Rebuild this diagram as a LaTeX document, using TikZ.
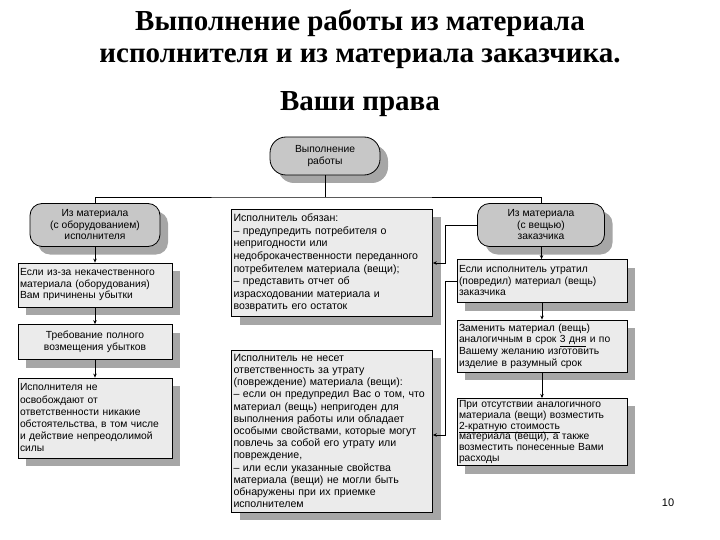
\documentclass[tikz,border=0pt]{standalone}
\usepackage{fontspec}
\setmainfont{Liberation Sans}
\newfontfamily\titlefont{Liberation Serif}
\usetikzlibrary{shadows,arrows.meta}
\begin{document}
\begin{tikzpicture}[x=1pt,y=-1pt,
  sh/.style={drop shadow={shadow xshift=8pt,shadow yshift=-8pt,fill=black!35,opacity=1}},
  box/.style={draw=black,line width=0.8pt,fill=black!8,sh,inner sep=2pt,align=left,font=\fontsize{10.3}{11.5}\selectfont},
  rbox/.style={draw=black,line width=0.8pt,fill=black!22,sh,rounded corners=12pt,align=center,inner sep=1pt,font=\fontsize{10.3}{11.5}\selectfont},
  ttl/.style={font=\titlefont\bfseries\fontsize{29}{33}\selectfont},
  ln/.style={line width=0.8pt},
  ar/.style={line width=0.8pt,-{Stealth[length=4pt,width=3.5pt]}}]
\useasboundingbox (0,0) rectangle (720,540);
\node[ttl] (t1) at (360,23) {Выполнение работы из материала};
\node[ttl] (t2) at (360,59) {исполнителя и из материала заказчика.};
\node[ttl] (t3) at (360,104) {Ваши права};

\node[rbox,minimum width=110pt,minimum height=38pt,rounded corners=16pt] (top) at (325,156) {Выполнение\\работы};
\node[rbox,minimum width=130pt,minimum height=43pt] (lr) at (95,225) {Из материала\\(с оборудованием)\\исполнителя};
\node[rbox,minimum width=127pt,minimum height=43pt] (rr) at (541,225) {Из материала\\(с вещью)\\заказчика};

\node[box,minimum width=154pt,minimum height=44pt,text width=150pt] (l1) at (95,285) {Если из-за некачественного\\материала (оборудования)\\Вам причинены убытки};
\node[box,minimum width=154pt,minimum height=35pt,text width=150pt,align=center] (l2) at (95,342) {Требование полного\\возмещения убытков};
\node[box,minimum width=154pt,minimum height=80pt,text width=150pt,font=\fontsize{10.3}{12.2}\selectfont] (l3) at (95,418) {Исполнителя не\\освобождают от\\ответственности никакие\\обстоятельства, в том числе\\и действие непреодолимой\\силы};

\node[box,minimum width=201pt,minimum height=107pt,text width=197pt,font=\fontsize{10.6}{12.6}\selectfont] (m1) at (332,263) {Исполнитель обязан:\\-- предупредить потребителя о\\непригодности или\\недоброкачественности переданного\\потребителем материала (вещи);\\-- представить отчет об\\израсходовании материала и\\возвратить его остаток};
\node[box,minimum width=201pt,minimum height=162pt,text width=197pt,font=\fontsize{10.6}{12.2}\selectfont] (m2) at (332,431) {Исполнитель не несет\\ответственность за утрату\\(повреждение) материала (вещи):\\-- если он предупредил Вас о том, что\\материал (вещь) непригоден для\\выполнения работы или обладает\\особыми свойствами, которые могут\\повлечь за собой его утрату или\\повреждение,\\-- или если указанные свойства\\материала (вещи) не могли быть\\обнаружены при их приемке\\исполнителем};

\node[box,minimum width=170pt,minimum height=43pt,text width=166pt] (r1) at (542,281) {Если исполнитель утратил\\(повредил) материал (вещь)\\заказчика};
\node[box,minimum width=170pt,minimum height=52pt,text width=166pt,font=\fontsize{10.3}{11.6}\selectfont] (r2) at (542,346) {Заменить материал (вещь)\\аналогичным в срок \smash{\underline{3 дня}} и по\\Вашему желанию изготовить\\изделие в разумный срок};
\node[box,minimum width=170pt,minimum height=65pt,text width=166pt,font=\fontsize{10.3}{10.8}\selectfont] (r3) at (542,432) {При отсутствии аналогичного\\материала (вещи) возместить\\\smash{\underline{2-кратную стоимость}}\\материала (вещи), а также\\возместить понесенные Вами\\расходы};

\node[font=\fontsize{11}{13}\selectfont] (pn) at (668,503) {10};

\coordinate (j) at (325,197);
\draw[ln] (top.south) -- (j);
\draw[ln] (lr.north) |- (j) -| (rr.north);
\draw[ar] (lr) -- (l1);
\draw[ar] (l1) -- (l2);
\draw[ar] (l2) -- (l3);
\draw[ar] (rr) -- (r1);
\draw[ar] (r1) -- (r2);
\draw[ar] (r2) -- (r3);
\coordinate (c1) at (445,225);
\coordinate (c2) at (445,263);
\draw[ar] (rr.west) -- (c1) -- (c2) -- (m1.east |- c2);
\coordinate (c3) at (445,281);
\coordinate (c4) at (445,435);
\draw[ar] (r1.west) -- (c3) -- (c4) -- (m2.east |- c4);
\end{tikzpicture}
\end{document}
